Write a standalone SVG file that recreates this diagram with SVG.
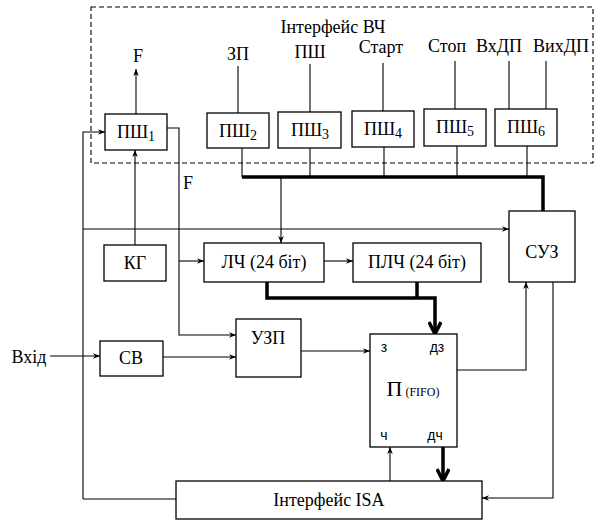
<svg xmlns="http://www.w3.org/2000/svg" width="596" height="522" viewBox="0 0 596 522">
<defs>
<marker id="a" viewBox="0 0 10 10" refX="10" refY="5" markerWidth="7" markerHeight="7" markerUnits="userSpaceOnUse" orient="auto">
<path d="M0,1 L10,5 L0,9 L3,5 Z" fill="#000"/>
</marker>
<marker id="t" viewBox="0 0 16 14" refX="14" refY="7" markerWidth="16" markerHeight="14" markerUnits="userSpaceOnUse" orient="auto">
<path d="M2,1 L14,7 L2,13" fill="none" stroke="#000" stroke-width="3.5"/>
</marker>
<style>
.b{fill:#fff;stroke:#000;stroke-width:1.3}
.l{fill:none;stroke:#000;stroke-width:1.1}
.k{fill:none;stroke:#000;stroke-width:3.5}
text{font-family:"Liberation Serif","Times New Roman",serif;font-size:18px;fill:#000}
.c{text-anchor:middle}
.s{font-family:"Liberation Sans",Arial,sans-serif;font-size:14px}
</style>
</defs>
<rect x="91" y="7" width="502" height="156" fill="none" stroke="#000" stroke-width="1.1" stroke-dasharray="5,3"/>
<text x="333" y="33" class="c" font-size="19">Інтерфейс ВЧ</text>
<text x="138" y="62" class="c">F</text>
<text x="188" y="189" class="c">F</text>
<text x="238" y="60" class="c">ЗП</text>
<text x="310" y="58" class="c">ПШ</text>
<text x="381" y="53" class="c">Старт</text>
<text x="447" y="52" class="c">Стоп</text>
<text x="499" y="52" class="c">ВхДП</text>
<text x="561" y="52" class="c">ВихДП</text>
<text x="29" y="363" class="c">Вхід</text>
<g id="connectors">
<path class="l" d="M136,114 V69" marker-end="url(#a)"/>
<path class="l" d="M83,499 V132 H105" marker-end="url(#a)"/>
<path class="l" d="M167,128 H179 V335 H236" marker-end="url(#a)"/>
<path class="l" d="M135,245 V150" marker-end="url(#a)"/>
<path class="l" d="M83,229 H509" marker-end="url(#a)"/>
<path class="l" d="M179,261 H204" marker-end="url(#a)"/>
<path class="l" d="M324,261 H353" marker-end="url(#a)"/>
<path class="l" d="M238,66 V113 M310,64 V112 M383,63 V111 M455,61 V109 M509,61 V109 M546,61 V109"/>
<path class="l" d="M242,148 V177 M310,148 V177 M384,147 V177 M457,146 V177 M527,146 V177"/>
<path class="k" d="M242,177 H543 V211"/>
<path class="l" d="M281,177 V243" marker-end="url(#a)"/>
<path class="k" d="M267,282 V298 H435 V334" marker-end="url(#t)"/>
<path class="k" d="M417,282 V298"/>
<path class="l" d="M457,370 H526 V282" marker-end="url(#a)"/>
<path class="l" d="M553,282 V498 H482" marker-end="url(#a)"/>
<path class="l" d="M83,499 H176"/>
<path class="l" d="M390,481 V447" marker-end="url(#a)"/>
<path class="k" d="M443,447 V481" marker-end="url(#t)"/>
<path class="l" d="M301,351 H370" marker-end="url(#a)"/>
<path class="l" d="M50,356 H100" marker-end="url(#a)"/>
<path class="l" d="M163,357 H236" marker-end="url(#a)"/>
</g>
<g id="psh1"><rect class="b" x="105" y="114" width="62" height="36"/><text x="136" y="138" class="c">ПШ<tspan font-size="14" dy="3">1</tspan></text></g>
<g id="psh2"><rect class="b" x="207" y="113" width="62" height="35"/><text x="238" y="137" class="c">ПШ<tspan font-size="14" dy="3">2</tspan></text></g>
<g id="psh3"><rect class="b" x="278" y="112" width="63" height="36"/><text x="310" y="136" class="c">ПШ<tspan font-size="14" dy="3">3</tspan></text></g>
<g id="psh4"><rect class="b" x="352" y="111" width="62" height="36"/><text x="383" y="135" class="c">ПШ<tspan font-size="14" dy="3">4</tspan></text></g>
<g id="psh5"><rect class="b" x="424" y="109" width="62" height="37"/><text x="455" y="133" class="c">ПШ<tspan font-size="14" dy="3">5</tspan></text></g>
<g id="psh6"><rect class="b" x="495" y="109" width="62" height="37"/><text x="526" y="133" class="c">ПШ<tspan font-size="14" dy="3">6</tspan></text></g>
<g id="kg"><rect class="b" x="104" y="245" width="62" height="36"/><text x="135" y="269" class="c">КГ</text></g>
<g id="lch"><rect class="b" x="204" y="243" width="120" height="39"/><text x="264" y="268" class="c">ЛЧ (24 біт)</text></g>
<g id="plch"><rect class="b" x="353" y="243" width="128" height="39"/><text x="417" y="268" class="c">ПЛЧ (24 біт)</text></g>
<g id="suz"><rect class="b" x="509" y="211" width="66" height="71"/><text x="542" y="258" class="c">СУЗ</text></g>
<g id="cv"><rect class="b" x="100" y="341" width="63" height="35"/><text x="131" y="364" class="c">СВ</text></g>
<g id="uzp"><rect class="b" x="236" y="319" width="65" height="58"/><text x="268" y="344" class="c">УЗП</text></g>
<g id="fifo"><rect class="b" x="370" y="334" width="87" height="113"/>
<text x="384" y="352" class="c s">з</text><text x="437" y="352" class="c s">дз</text>
<text x="413" y="396" class="c"><tspan font-size="22">П</tspan><tspan font-size="12"> (FIFO)</tspan></text>
<text x="384" y="440" class="c s">ч</text><text x="435" y="440" class="c s">дч</text></g>
<g id="isa"><rect class="b" x="176" y="481" width="306" height="38"/><text x="329" y="506" class="c">Інтерфейс ISA</text></g>
</svg>
